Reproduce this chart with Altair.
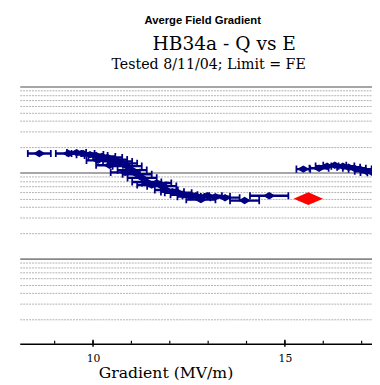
import altair as alt
import pandas as pd

# ---- data ----
gradient = [8.60, 9.36, 9.57, 9.74, 9.92, 10.08, 10.13, 10.23, 10.38, 10.43, 10.51, 10.64,
            10.77, 10.84, 10.89, 11.02, 11.15, 11.28, 11.40, 11.53, 11.66, 11.79, 11.91,
            12.07, 12.22, 12.37, 12.55, 12.68, 12.81, 12.98, 13.19, 13.44, 13.95, 14.59,
            15.48, 15.89, 16.10, 16.30, 16.51, 16.66, 16.81, 16.96, 17.12, 17.27, 17.45]
q0 = [1.67e10, 1.67e10, 1.71e10, 1.67e10, 1.62e10, 1.58e10, 1.39e10, 1.54e10, 1.50e10, 1.22e10,
      1.42e10, 1.35e10, 1.28e10, 1.01e10, 1.19e10, 1.07e10, 9.6e9, 8.7e9, 7.8e9, 7.2e9,
      7.6e9, 7.0e9, 6.3e9, 6.0e9, 5.85e9, 5.55e9, 5.27e9, 5.4e9, 4.87e9, 5.4e9, 5.27e9,
      5.13e9, 4.75e9, 5.4e9,
      1.10e10, 1.125e10, 1.19e10, 1.22e10, 1.19e10, 1.155e10, 1.125e10, 1.10e10, 1.04e10,
      1.01e10, 1.0e10]
grad_err = [0.30, 0.33, 0.25, 0.30, 0.35, 0.30, 0.30, 0.35, 0.38, 0.35, 0.38, 0.38,
            0.38, 0.38, 0.38, 0.38, 0.38, 0.38, 0.38, 0.38, 0.38, 0.38, 0.30,
            0.30, 0.35, 0.35, 0.35, 0.35, 0.38, 0.38, 0.38, 0.38, 0.38, 0.50,
            0.18, 0.25, 0.30, 0.30, 0.30, 0.30, 0.30, 0.30, 0.30, 0.30, 0.30]

limit_gradient = [15.61]
limit_q0 = [5.0e9]

x_tick_values = [9, 10, 11, 12, 13, 14, 15, 16, 17]
x_label_values = [10, 15]
y_grid_values = [m * 10 ** e for e in (8, 9, 10) for m in range(1, 10)] + [1e11]

title_top = "Averge Field Gradient"
title_main = "HB34a - Q vs E"
title_sub = "Tested 8/11/04; Limit = FE"
x_title = "Gradient (MV/m)"

NAVY = "#000080"
W, H = 360, 263
SERIF = "DejaVu Serif, Liberation Serif, serif"
MAJOR = "abs(log(datum.value)/LN10 - round(log(datum.value)/LN10)) < 1e-6"

df = pd.DataFrame({"g": gradient, "q": q0, "e": grad_err})
df_lim = pd.DataFrame({"g": limit_gradient, "q": limit_q0})
df_ticks = pd.DataFrame({"v": x_tick_values})

xscale = alt.Scale(domain=[8.09, 17.27], nice=False, zero=False)
yscale = alt.Scale(type="log", domain=[1.04e8, 1e11], nice=False)

xaxis = alt.Axis(values=x_label_values, ticks=False, grid=False, domainColor="black",
                 domainWidth=1.5, labelFont=SERIF, labelFontSize=11,
                 labelColor="black", labelPadding=9, title=x_title,
                 titleFont=SERIF, titleFontSize=16, titleFontWeight="normal",
                 titleColor="black", titleX=149, titleY=34, titleBaseline="alphabetic",
                 titleAlign="center")
yaxis = alt.Axis(values=y_grid_values, labels=False, ticks=False, domain=False, title=None,
                 grid=True,
                 gridDash={"condition": {"test": MAJOR, "value": []}, "value": [2, 1]},
                 gridColor={"condition": {"test": MAJOR, "value": "#888888"}, "value": "#b0b0b0"},
                 gridWidth={"condition": {"test": MAJOR, "value": 1.6}, "value": 1})

base = alt.Chart(df).transform_calculate(
    lo="datum.g - datum.e", hi="datum.g + datum.e",
    qlo="datum.q / 1.1", qhi="datum.q * 1.1")

grid_layer = alt.Chart(df).mark_point(opacity=0).encode(
    x=alt.X("g:Q", scale=xscale, axis=xaxis),
    y=alt.Y("q:Q", scale=yscale, axis=yaxis))

bars = base.mark_rule(color=NAVY, strokeWidth=2.4, clip=True).encode(
    x=alt.X("lo:Q", scale=xscale), x2="hi:Q", y=alt.Y("q:Q", scale=yscale))
cap_lo = base.mark_rule(color=NAVY, strokeWidth=1.8, clip=True).encode(
    x=alt.X("lo:Q", scale=xscale), y=alt.Y("qlo:Q", scale=yscale), y2="qhi:Q")
cap_hi = base.mark_rule(color=NAVY, strokeWidth=1.8, clip=True).encode(
    x=alt.X("hi:Q", scale=xscale), y=alt.Y("qlo:Q", scale=yscale), y2="qhi:Q")
pts = base.mark_point(shape="M-1,0L0,-0.6L1,0L0,0.6Z", filled=True, color=NAVY, opacity=1,
                      size=160, clip=True).encode(
    x=alt.X("g:Q", scale=xscale), y=alt.Y("q:Q", scale=yscale))

limit = alt.Chart(df_lim).mark_point(shape="M-1,0L0,-0.43L1,0L0,0.43Z", filled=True,
                                     color="#ff0000", opacity=1, size=900).encode(
    x=alt.X("g:Q", scale=xscale), y=alt.Y("q:Q", scale=yscale))

ticks = alt.Chart(df_ticks).mark_rule(color="black", strokeWidth=1.2).encode(
    x=alt.X("v:Q", scale=xscale),
    y=alt.value(H - 3),
    y2=alt.value(H),
)
ticks_major = alt.Chart(df_ticks).transform_filter("datum.v % 5 == 0").mark_rule(
    color="black", strokeWidth=1.5).encode(
    x=alt.X("v:Q", scale=xscale), y=alt.value(H - 4), y2=alt.value(H + 3))

one = alt.Data(values=[{}])
t1 = alt.Chart(one).mark_text(text=title_top, font="Liberation Sans Narrow, Liberation Sans, sans-serif",
                              fontSize=11.5, fontWeight="bold", color="black", align="center",
                              baseline="alphabetic").encode(x=alt.value(187), y=alt.value(-64))
t2 = alt.Chart(one).mark_text(text=title_main, font=SERIF, fontSize=19,
                              color="black", align="center",
                              baseline="alphabetic").encode(x=alt.value(209), y=alt.value(-37))
t3 = alt.Chart(one).mark_text(text=title_sub, font=SERIF, fontSize=14.5,
                              color="black", align="center",
                              baseline="alphabetic").encode(x=alt.value(193), y=alt.value(-18))

chart = alt.layer(grid_layer, bars, cap_lo, cap_hi, pts, limit, ticks, ticks_major, t1, t2, t3).properties(
    width=W, height=H, autosize="none",
    padding={"left": 12, "top": 76, "right": 0, "bottom": 38},
    background="white",
).configure_view(strokeWidth=0)

chart.save("out.html", embed_options={"renderer": "svg", "actions": False})
